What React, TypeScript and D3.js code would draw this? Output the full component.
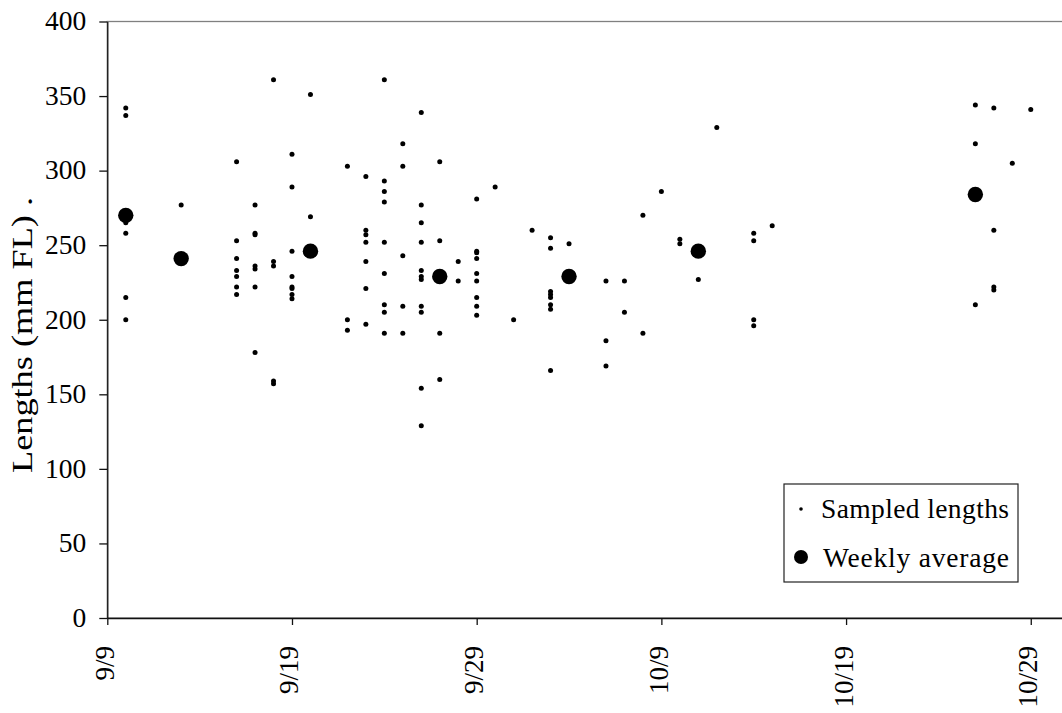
import { useEffect, useRef } from 'react';
import * as d3 from 'd3';

// sampled fork lengths per day (mm FL)
const sampleDates = [
  '9/10', '9/13', '9/16', '9/17', '9/18', '9/19', '9/20', '9/22', '9/23', '9/24',
  '9/25', '9/26', '9/27', '9/28', '9/29', '9/30', '10/1', '10/2', '10/3', '10/4',
  '10/6', '10/7', '10/8', '10/9', '10/10', '10/11', '10/12', '10/14', '10/15',
  '10/26', '10/27', '10/28', '10/29',
];
const sampleLengths = [
  [342, 337, 265, 258, 215, 200],
  [277],
  [306, 253, 241, 233, 229, 222, 217],
  [277, 258, 257, 236, 234, 222, 178],
  [361, 239, 236, 159, 157],
  [311, 289, 246, 229, 222, 221, 217, 214],
  [351, 269],
  [303, 200, 193],
  [296, 260, 257, 252, 239, 221, 197],
  [361, 293, 286, 279, 252, 231, 210, 205, 191],
  [318, 303, 243, 209, 191],
  [339, 277, 265, 252, 233, 229, 227, 209, 205, 154, 129],
  [306, 253, 191, 160],
  [239, 226],
  [281, 246, 245, 241, 231, 226, 215, 209, 203],
  [289],
  [200],
  [260],
  [255, 248, 219, 217, 215, 210, 207, 166],
  [251],
  [226, 186, 169],
  [226, 205],
  [270, 191],
  [286],
  [254, 251],
  [227],
  [329],
  [258, 253, 200, 196],
  [263],
  [344, 318, 210],
  [342, 260, 222, 220],
  [305],
  [341],
];

const weeklyDates = ['9/10', '9/13', '9/20', '9/27', '10/4', '10/11', '10/26'];
const weeklyAverages = [270, 241, 246, 229, 229, 246, 284];

const xTickLabels = ['9/9', '9/19', '9/29', '10/9', '10/19', '10/29'];
const yTicks = [0, 50, 100, 150, 200, 250, 300, 350, 400];

const W = 1062;
const H = 713;
const FONT = '"Liberation Serif", "Times New Roman", Times, serif';

const parse = (s: string) => {
  const [m, d] = s.split('/').map(Number);
  return new Date(Date.UTC(2002, m - 1, d));
};

export default function App() {
  const ref = useRef<SVGSVGElement>(null);

  useEffect(() => {
    if (!ref.current) return;
    const svg = d3.select(ref.current);
    svg.selectAll('*').remove();

    const x = d3
      .scaleUtc()
      .domain([parse('9/9'), parse('10/31')])
      .range([107.3, 1067.7]);
    const y = d3.scaleLinear().domain([0, 400]).range([618, 21.5]);

    svg.append('rect').attr('width', W).attr('height', H).attr('fill', '#fff');

    // plot area border
    svg
      .append('rect')
      .attr('x', x.range()[0])
      .attr('y', y(400))
      .attr('width', x.range()[1] - x.range()[0])
      .attr('height', y(0) - y(400))
      .attr('fill', 'none')
      .attr('stroke', '#808080')
      .attr('stroke-width', 1.3);

    // y axis
    svg
      .append('g')
      .attr('transform', `translate(${x.range()[0]},0)`)
      .call(
        d3
          .axisLeft(y)
          .tickValues(yTicks)
          .tickSize(8)
          .tickSizeOuter(0)
          .tickPadding(13)
      )
      .call(g => g.selectAll('path, line').attr('stroke', '#111').attr('stroke-width', 1.3))
      .selectAll('text')
      .attr('fill', '#000')
      .attr('font-family', FONT)
      .attr('font-size', 27.5)
      .attr('dy', '0.3em');

    // x axis
    svg
      .append('g')
      .attr('transform', `translate(0,${y(0)})`)
      .call(
        d3
          .axisBottom(x)
          .tickValues(xTickLabels.map(parse))
          .tickFormat((_, i) => xTickLabels[i])
          .tickSize(7)
          .tickSizeOuter(0)
      )
      .call(g => g.selectAll('path, line').attr('stroke', '#111').attr('stroke-width', 1.3))
      .selectAll('text')
      .attr('fill', '#000')
      .attr('font-family', FONT)
      .attr('font-size', 27)
      .attr('transform', 'rotate(-90)')
      .attr('text-anchor', 'end')
      .attr('x', -28)
      .attr('y', 0)
      .attr('dy', '0.22em');

    // y axis title
    svg
      .append('text')
      .attr('transform', 'translate(32,335) rotate(-90)')
      .attr('text-anchor', 'middle')
      .attr('font-family', FONT)
      .attr('font-size', 29)
      .attr('textLength', 276)
      .attr('lengthAdjust', 'spacingAndGlyphs')
      .text('Lengths (mm FL) .');

    // sampled points
    const pts = sampleDates.flatMap((d, i) =>
      sampleLengths[i].map(v => ({ date: parse(d), v }))
    );
    svg
      .append('g')
      .selectAll('circle')
      .data(pts)
      .join('circle')
      .attr('cx', d => x(d.date))
      .attr('cy', d => y(d.v))
      .attr('r', 2.5)
      .attr('fill', '#000');

    // weekly averages
    svg
      .append('g')
      .selectAll('circle')
      .data(weeklyDates.map((d, i) => ({ date: parse(d), v: weeklyAverages[i] })))
      .join('circle')
      .attr('cx', d => x(d.date))
      .attr('cy', d => y(d.v))
      .attr('r', 7.7)
      .attr('fill', '#000');

    // legend
    const lg = svg.append('g').attr('transform', 'translate(784,484)');
    lg.append('rect')
      .attr('width', 234)
      .attr('height', 98)
      .attr('fill', '#fff')
      .attr('stroke', '#222')
      .attr('stroke-width', 1.2);
    lg.append('circle').attr('cx', 17).attr('cy', 25).attr('r', 1.8).attr('fill', '#000');
    lg.append('circle').attr('cx', 17).attr('cy', 73).attr('r', 7).attr('fill', '#000');
    lg.append('text')
      .attr('x', 37)
      .attr('y', 34)
      .attr('font-family', FONT)
      .attr('font-size', 27.5)
      .attr('textLength', 188)
      .attr('lengthAdjust', 'spacing')
      .text('Sampled lengths');
    lg.append('text')
      .attr('x', 39)
      .attr('y', 83)
      .attr('font-family', FONT)
      .attr('font-size', 27.5)
      .attr('textLength', 186)
      .attr('lengthAdjust', 'spacing')
      .text('Weekly average');
  }, []);

  return (
    <svg
      ref={ref}
      width={W}
      height={H}
      style={{ position: 'absolute', left: 0, top: 0, display: 'block' }}
    />
  );
}
